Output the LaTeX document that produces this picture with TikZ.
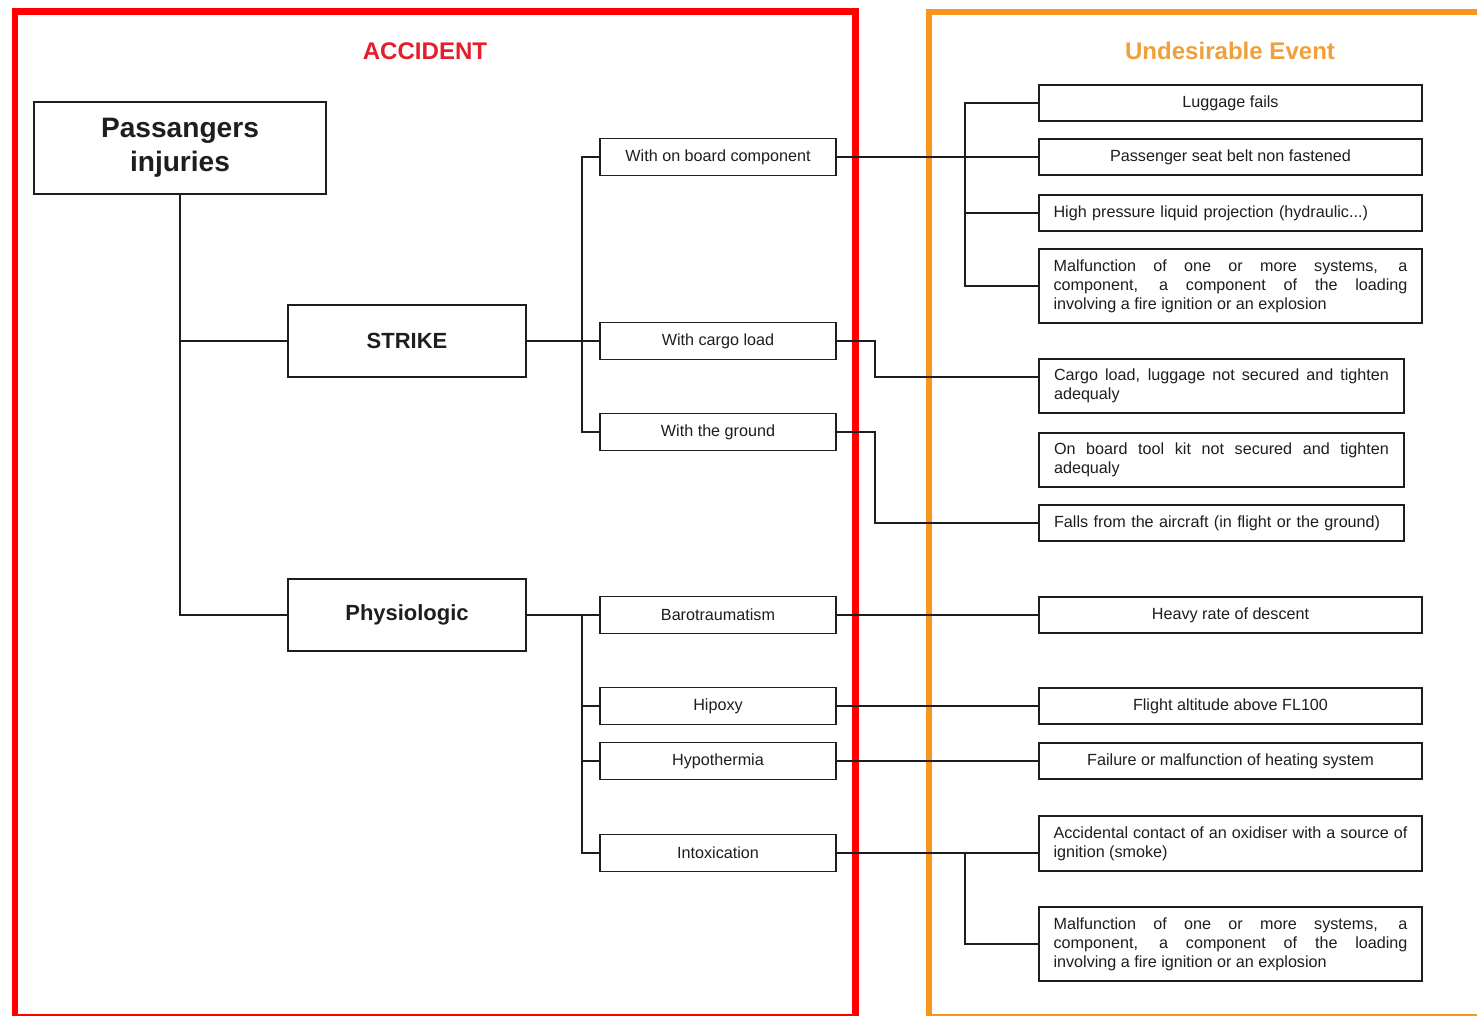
\documentclass[tikz,border=0pt]{standalone}
\usepackage{fontspec}
\setmainfont{Liberation Sans}
\usetikzlibrary{calc}
\definecolor{accred}{HTML}{FF0000}
\definecolor{frameorange}{HTML}{F7961C}
\definecolor{titlered}{HTML}{E41E2B}
\definecolor{titleorange}{HTML}{F0A03A}
\definecolor{ink}{HTML}{1E1E1E}

\begin{document}
\begin{tikzpicture}[x=0.02cm,y=-0.02cm,
  box/.style={draw=ink, line width=1.1pt, fill=white, inner sep=0pt,
    font=\fontsize{9.2}{10.8}\selectfont, text=ink, align=center},
  headbox/.style={box, minimum width=4.76cm, minimum height=1.44cm,
    font=\fontsize{12.5}{15}\selectfont\bfseries},
  midbox/.style={box, minimum width=4.72cm, minimum height=0.74cm},
  evbox/.style={box, minimum width=7.66cm, minimum height=0.72cm},
  evnarrow/.style={box, minimum width=7.3cm, minimum height=0.72cm},
  wide/.style={text width=7.08cm},
  narrow/.style={text width=6.7cm},
  title/.style={font=\fontsize{13.7}{16}\selectfont\bfseries},
  conn/.style={draw=ink, line width=1pt}
]
\useasboundingbox (0,0) rectangle (1477,1016);

% frames of the two zones
\draw[accred, line width=0.14cm] (15,12) rectangle (855,1017);
\draw[frameorange, line width=0.11cm] (929,12) rectangle (1530,1017);

\node[title, text=titlered] (tacc) at (425,51) {ACCIDENT};
\node[title, text=titleorange] (tue) at (1230,51) {Undesirable Event};

% accident tree
\node[box, minimum width=5.84cm, minimum height=1.84cm,
      font=\fontsize{16}{19.3}\selectfont\bfseries] (pi) at (180,148)
      {Passangers\\injuries};
\node[headbox] (strike) at (407,341) {STRIKE};
\node[headbox] (physio) at (407,615) {Physiologic};

\node[midbox] (onboard) at (718,157) {With on board component};
\node[midbox] (cargo)   at (718,341) {With cargo load};
\node[midbox] (ground)  at (718,432) {With the ground};
\node[midbox] (baro)    at (718,615) {Barotraumatism};
\node[midbox] (hipoxy)  at (718,706) {Hipoxy};
\node[midbox] (hypo)    at (718,761) {Hypothermia};
\node[midbox] (intox)   at (718,853) {Intoxication};

% undesirable events
\node[evbox] (luggage)  at (1230.5,103) {Luggage fails};
\node[evbox] (seatbelt) at (1230.5,157) {Passenger seat belt non fastened};
\node[evbox, wide, align=left] (hp) at (1230.5,213)
      {High pressure liquid projection (hydraulic...)};
\node[evbox, wide, align=justify, minimum height=1.48cm] (malf1) at (1230.5,286)
      {Malfunction of one or more systems, a\linebreak component, a component of the loading\linebreak involving a fire ignition or an explosion};
\node[evnarrow, narrow, align=justify, minimum height=1.08cm] (cargoE) at (1221.5,386)
      {Cargo load, luggage not secured and tighten\linebreak adequaly};
\node[evnarrow, narrow, align=justify, minimum height=1.08cm] (toolkit) at (1221.5,460)
      {On board tool kit not secured and tighten\linebreak adequaly};
\node[evnarrow, narrow, align=left] (falls) at (1221.5,523)
      {Falls from the aircraft (in flight or the ground)};
\node[evbox] (heavy)   at (1230.5,615) {Heavy rate of descent};
\node[evbox] (flight)  at (1230.5,706) {Flight altitude above FL100};
\node[evbox] (failure) at (1230.5,761) {Failure or malfunction of heating system};
\node[evbox, wide, align=justify, minimum height=1.1cm] (accid) at (1230.5,843.5)
      {Accidental contact of an oxidiser with a source of\linebreak ignition (smoke)};
\node[evbox, wide, align=justify, minimum height=1.48cm] (malf2) at (1230.5,944)
      {Malfunction of one or more systems, a\linebreak component, a component of the loading\linebreak involving a fire ignition or an explosion};

% bus and elbow points
\coordinate (sbus) at (582,0);
\coordinate (ebus) at (965,0);
\coordinate (cj) at (875,377);
\coordinate (gj) at (875,523);

% left tree
\draw[conn] (pi.south) |- (physio.west);
\draw[conn] (pi.south |- strike.west) -- (strike.west);
\draw[conn] (strike.east) -- (cargo.west);
\draw[conn] (onboard.west) -| (sbus |- ground.west) -- (ground.west);
\draw[conn] (physio.east) -- (baro.west);
\draw[conn] (baro.west -| sbus) |- (intox.west);
\draw[conn] (hipoxy.west -| sbus) -- (hipoxy.west);
\draw[conn] (hypo.west -| sbus) -- (hypo.west);

% links to the undesirable events
\draw[conn] (onboard.east) -- (seatbelt.west);
\draw[conn] (luggage.west) -| (ebus |- malf1.west) -- (malf1.west);
\draw[conn] (hp.west -| ebus) -- (hp.west);
\draw[conn] (cargo.east) -| (cj) -- (cj -| cargoE.west);
\draw[conn] (ground.east) -| (gj) -- (falls.west);
\draw[conn] (baro.east) -- (heavy.west);
\draw[conn] (hipoxy.east) -- (flight.west);
\draw[conn] (hypo.east) -- (failure.west);
\draw[conn] (intox.east) -- (intox.east -| accid.west);
\draw[conn] (intox.east -| ebus) |- (malf2.west);
\end{tikzpicture}
\end{document}
